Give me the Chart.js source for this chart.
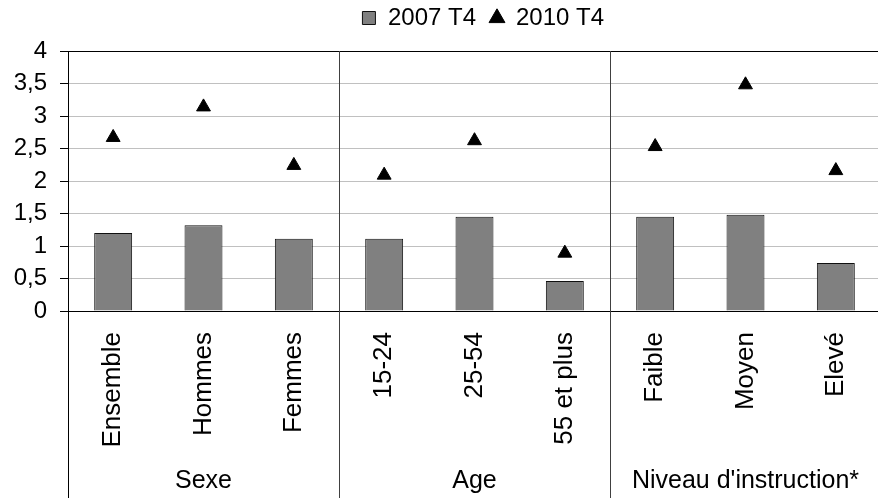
<!DOCTYPE html>
<html><head><meta charset="utf-8">
<script src="https://cdn.jsdelivr.net/npm/chart.js@4.4.0/dist/chart.umd.min.js"></script>
<style>
html,body{margin:0;padding:0;background:#fff;overflow:hidden;width:878px;height:498px;}
#wrap{position:relative;width:890px;height:506px;margin-top:-8px;}
</style></head><body>
<div id="wrap"><canvas id="c" width="890" height="506"></canvas></div>
<script>
const categories = ['Ensemble','Hommes','Femmes','15-24','25-54','55 et plus','Faible','Moyen','Elevé'];
const groups = ['Sexe','Age',"Niveau d'instruction*"];
const groupSizes = [3,3,3];
const values2007 = [1.2,1.32,1.11,1.11,1.45,0.46,1.45,1.48,0.74];
const values2010 = [2.67,3.14,2.24,2.09,2.62,0.89,2.53,3.48,2.16];
const seriesNames = ['2007 T4','2010 T4'];
const yMin = 0, yMax = 4, yStep = 0.5;

const FONT = '"Liberation Sans", Arial, sans-serif';

const legendTweak = {
  id: 'legendTweak',
  afterInit(chart) {
    const lg = chart.legend;
    const f = lg.fit.bind(lg);
    lg.fit = function () { f(); this.height = 59; };
  },
  afterLayout(chart) {
    const lg = chart.legend;
    lg.left += 8.5; lg.right += 8.5;
  }
};

const separators = {
  id: 'groupSeparators',
  afterDraw(chart) {
    const x = chart.scales.x, ctx = chart.ctx, area = chart.chartArea;
    const half = (x.getPixelForValue(1) - x.getPixelForValue(0)) / 2;
    const bounds = [0];
    let idx = 0;
    groupSizes.forEach(s => { idx += s; bounds.push(idx); });
    ctx.save();
    ctx.lineWidth = 1;
    bounds.forEach((b, i) => {
      const px = Math.round(x.getPixelForValue(b) - half) + 0.5;
      ctx.strokeStyle = i === 0 ? '#000' : '#404040';
      ctx.beginPath();
      ctx.moveTo(px, area.top);
      ctx.lineTo(px, chart.height);
      ctx.stroke();
    });
    ctx.restore();
  }
};

new Chart(document.getElementById('c'), {
  type: 'bar',
  data: {
    labels: categories,
    datasets: [
      {
        type: 'bar', label: seriesNames[0], data: values2007,
        backgroundColor: '#808080', borderColor: '#111', borderWidth: 1,
        barPercentage: 0.42, categoryPercentage: 1, order: 2,
        pointStyle: 'rect', xAxisID: 'x'
      },
      {
        type: 'line', label: seriesNames[1], data: values2010,
        showLine: false, pointStyle: 'triangle', pointRadius: 8,
        backgroundColor: '#000', borderColor: '#000', pointBorderWidth: 1,
        order: 1, xAxisID: 'x'
      }
    ]
  },
  options: {
    responsive: false,
    animation: false,
    events: [],
    layout: { padding: { top: 0, right: 3, bottom: 0, left: 0 } },
    plugins: {
      legend: {
        position: 'top', fullSize: false,
        labels: {
          usePointStyle: true, boxWidth: 14, boxHeight: 13, padding: 14,
          color: '#000', font: { family: FONT, size: 24 },
          sort: (a, b) => a.datasetIndex - b.datasetIndex
        }
      },
      tooltip: { enabled: false }
    },
    scales: {
      x: {
        type: 'category', position: 'bottom', weight: 0, offset: true,
        grid: { display: false, drawTicks: false },
        border: { display: true, color: '#000', width: 1 },
        ticks: {
          autoSkip: false, maxRotation: 90, minRotation: 90, padding: 21,
          color: '#000', font: { family: FONT, size: 26 }
        },
        afterFit(s) { s.height = 139; }
      },
      x2: {
        type: 'category', position: 'bottom', weight: 1, offset: true,
        labels: groups,
        grid: { display: false, drawTicks: false },
        border: { display: false },
        ticks: {
          autoSkip: false, maxRotation: 0, minRotation: 0, padding: 16,
          color: '#000', font: { family: FONT, size: 25 }
        },
        afterFit(s) { s.height = 48; }
      },
      y: {
        min: yMin, max: yMax,
        ticks: {
          stepSize: yStep, padding: 13, color: '#000',
          font: { family: FONT, size: 24 },
          callback: v => String(v).replace('.', ',')
        },
        grid: {
          color: c => (c.tick && c.tick.value === yMax) ? '#000' : '#c0c0c0',
          tickColor: '#000', tickLength: 8, drawTicks: true
        },
        border: { display: true, color: '#000', width: 1 },
        afterFit(s) { s.width = 68; }
      }
    }
  },
  plugins: [legendTweak, separators]
});
</script>
</body></html>
